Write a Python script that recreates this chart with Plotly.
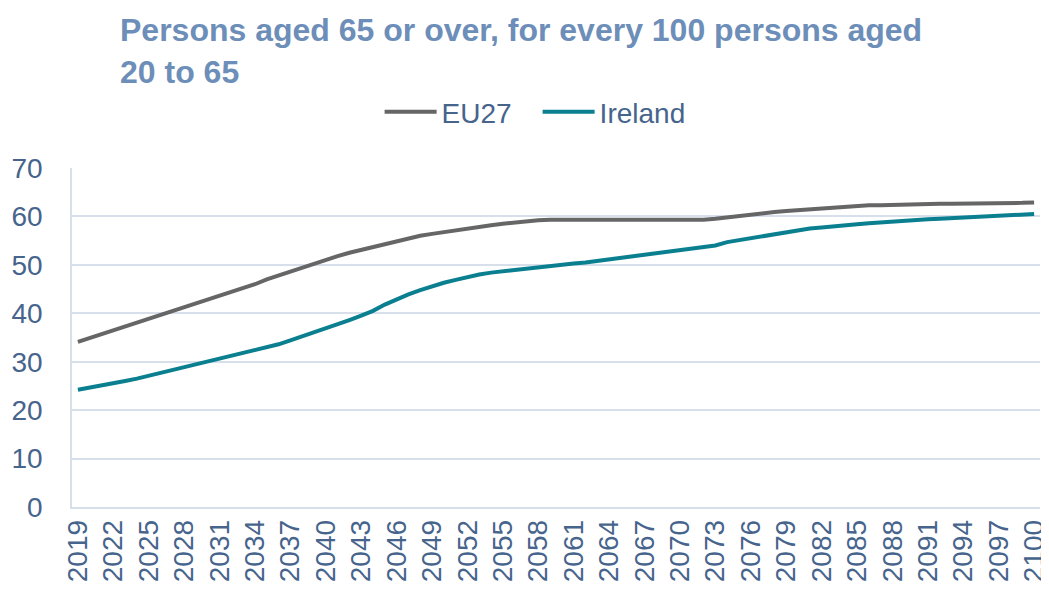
import plotly.graph_objects as go

years = list(range(2019, 2101))

eu27 = [34.1, 34.9, 35.7, 36.4, 37.2, 38.0, 38.8, 39.6, 40.4, 41.2,
        42.0, 42.7, 43.5, 44.3, 45.1, 46.0, 47.0, 47.8, 48.6, 49.4,
        50.4, 51.1, 51.8, 52.5, 53.1, 53.8, 54.4, 55.0, 55.5, 56.0,
        56.4, 56.8, 57.2, 57.5, 57.9, 58.2, 58.5, 58.8, 59.1, 59.2,
        59.3, 59.3, 59.3, 59.3, 59.2, 59.1, 59.1, 59.1, 59.1, 59.1,
        59.1, 59.1, 59.2, 59.3, 59.5, 59.8, 60.2, 60.5, 60.7, 60.9,
        61.1, 61.3, 61.5, 61.7, 61.9, 62.1, 62.2, 62.3, 62.3, 62.4,
        62.4, 62.5, 62.5, 62.6, 62.6, 62.6, 62.7, 62.7, 62.7, 62.8,
        62.8, 62.9]

ireland = [24.2, 24.6, 25.0, 25.4, 26.0, 26.5, 27.1, 27.7, 28.3, 28.9,
           29.5, 30.1, 30.7, 31.2, 31.7, 32.3, 32.9, 33.6, 34.4, 35.2,
           36.1, 36.9, 37.7, 38.6, 39.5, 40.5, 41.8, 42.9, 43.9, 44.8,
           45.6, 46.3, 46.9, 47.5, 48.0, 48.4, 48.7, 49.0, 49.3, 49.6,
           49.9, 50.1, 50.3, 50.5, 50.8, 51.1, 51.5, 51.8, 52.1, 52.4,
           52.7, 53.0, 53.3, 53.6, 54.0, 54.7, 55.1, 55.6, 56.1, 56.5,
           56.9, 57.2, 57.5, 57.7, 58.0, 58.2, 58.4, 58.6, 58.8, 59.0,
           59.1, 59.3, 59.4, 59.5, 59.6, 59.7, 59.8, 59.9, 60.0, 60.2,
           60.3, 60.5]

tick_years = list(range(2019, 2101, 3))
tick_text = [str(y) for y in tick_years]

grid_col = "#D6DFEA"
text_col = "#46648C"

fig = go.Figure()
fig.add_trace(go.Scatter(x=years, y=eu27, mode="lines", name="EU27",
                         line=dict(color="#666666", width=4)))
fig.add_trace(go.Scatter(x=years, y=ireland, mode="lines", name="Ireland",
                         line=dict(color="#0A7F8F", width=4)))

# the page body adds an 8px offset; margins compensate for it
fig.update_layout(
    width=1049, height=591,
    margin=dict(l=64, r=17, t=160, b=92),
    paper_bgcolor="white", plot_bgcolor="white",
    font=dict(family="Liberation Sans, Arial, sans-serif", size=28, color=text_col),
    title=dict(text="<b>Persons aged 65 or over, for every 100 persons aged<br>20 to 65</b>",
               x=112/1049, xanchor="left", xref="container",
               y=0.9442, yanchor="top", yref="container", automargin=False,
               font=dict(size=32, color="#6C8EB8")),
    legend=dict(orientation="h", x=0.481, xanchor="center", y=1.165, yanchor="middle",
                font=dict(size=28, color=text_col), itemwidth=52,
                entrywidth=91, entrywidthmode="pixels",
                bgcolor="rgba(0,0,0,0)"),
    showlegend=True,
)
fig.update_xaxes(range=[2018.5, 2100.5], tickmode="array", tickvals=tick_years,
                 ticktext=tick_text, tickangle=-90, showgrid=False,
                 showline=True, linecolor=grid_col, linewidth=1.5, automargin=False,
                 ticklabeloverflow="allow",
                 ticks="", tickfont=dict(size=28, color=text_col), zeroline=False)
fig.update_yaxes(range=[0, 70], dtick=10, showgrid=True, gridcolor=grid_col, gridwidth=1.5,
                 showline=True, linecolor=grid_col, linewidth=1.5, zeroline=False,
                 automargin=False,
                 ticks="", ticklabelstandoff=22, tickfont=dict(size=28, color=text_col))

fig.write_html("out.html")
